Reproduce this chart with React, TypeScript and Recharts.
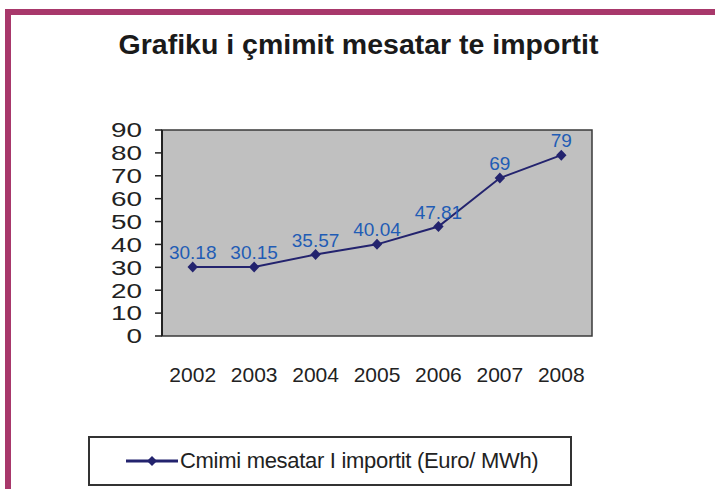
import React from 'react';
import { LineChart, Line, XAxis, YAxis, ReferenceArea, LabelList, Legend } from 'recharts';

const years = ['2002', '2003', '2004', '2005', '2006', '2007', '2008'];
const prices = [30.18, 30.15, 35.57, 40.04, 47.81, 69, 79];
const priceLabels = ['30.18', '30.15', '35.57', '40.04', '47.81', '69', '79'];
const yTicks = [0, 10, 20, 30, 40, 50, 60, 70, 80, 90];
const boundaryTicks = [0, 1, 2, 3, 4, 5, 6, 7];
const chartTitle = 'Grafiku i çmimit mesatar te importit';
const seriesName = 'Cmimi mesatar I importit (Euro/ MWh)';

const data = years.map((year, i) => ({ year, price: prices[i], label: priceLabels[i] }));

const LINE = '#23236e';
const LABEL = '#1f5cb5';
const INK = '#222222';
const FONT = '"Liberation Sans", Arial, Helvetica, sans-serif';

const Diamond = (props: any) => {
  const { cx, cy } = props;
  if (cx == null || cy == null) return null;
  return (
    <path
      d={`M${cx},${cy - 5.5} L${cx + 5.2},${cy} L${cx},${cy + 5.5} L${cx - 5.2},${cy} Z`}
      fill={LINE}
    />
  );
};

const YTick = (props: any) => {
  const { x, y, payload } = props;
  return (
    <text
      x={0}
      y={0}
      transform={`translate(${x},${y}) scale(1.36,1)`}
      textAnchor="end"
      dy="0.36em"
      fontSize={20.5}
      fill={INK}
      fontFamily={FONT}
    >
      {payload.value}
    </text>
  );
};

const LegendBox = (props: any) => {
  const item = props.payload && props.payload[0];
  return (
    <div
      style={{
        width: 484,
        height: 50,
        border: '2px solid #333',
        boxSizing: 'border-box',
        display: 'flex',
        alignItems: 'center',
        background: '#fff',
        fontFamily: FONT,
      }}
    >
      <svg width={52} height={12} style={{ marginLeft: 36, display: 'block' }}>
        <line x1={0} y1={6} x2={52} y2={6} stroke={LINE} strokeWidth={3} />
        <path d="M26,1 L31,6 L26,11 L21,6 Z" fill={LINE} />
      </svg>
      <span style={{ fontSize: 22, color: INK, marginLeft: 2, letterSpacing: -0.3, whiteSpace: 'nowrap' }}>
        {item ? item.value : seriesName}
      </span>
    </div>
  );
};

export default function App() {
  return (
    <div
      style={{
        position: 'absolute',
        left: 0,
        top: 0,
        width: 715,
        height: 489,
        overflow: 'hidden',
        background: '#fff',
        fontFamily: FONT,
      }}
    >
      <div
        style={{
          position: 'absolute',
          left: 5,
          top: 9,
          width: 740,
          height: 520,
          borderTop: '6px solid #a8386b',
          borderLeft: '6px solid #a8386b',
        }}
      />
      <div
        style={{
          position: 'absolute',
          left: 0,
          top: 30,
          width: 717,
          textAlign: 'center',
          fontSize: 28.5,
          lineHeight: '28px',
          fontWeight: 'bold',
          color: '#1a1a1a',
          whiteSpace: 'nowrap',
        }}
      >
        {chartTitle}
      </div>
      <div style={{ position: 'absolute', left: 0, top: 0 }}>
        <LineChart
          width={715}
          height={489}
          data={data}
          margin={{ top: 130, right: 123, left: 102, bottom: 113 }}
        >
          <XAxis
            xAxisId="edge"
            type="number"
            domain={[0, 7]}
            ticks={boundaryTicks}
            allowDataOverflow
            tick={false}
            tickSize={7}
            height={0}
            axisLine={{ stroke: INK, strokeWidth: 2 }}
            tickLine={{ stroke: INK, strokeWidth: 1.5 }}
          />
          <XAxis
            xAxisId="cat"
            dataKey="year"
            scale="band"
            interval={0}
            axisLine={false}
            tickLine={false}
            tickSize={0}
            tickMargin={31}
            height={40}
            tick={{ fill: INK, fontSize: 21, fontFamily: FONT }}
          />
          <YAxis
            domain={[0, 90]}
            ticks={yTicks}
            interval={0}
            allowDataOverflow
            width={60}
            tickSize={7}
            tickMargin={13}
            axisLine={{ stroke: INK, strokeWidth: 2 }}
            tickLine={{ stroke: INK, strokeWidth: 1.5 }}
            tick={<YTick />}
          />
          <ReferenceArea
            xAxisId="cat"
            y1={0}
            y2={90}
            fill="#c0c0c0"
            fillOpacity={1}
            stroke="#3a3a3a"
            strokeWidth={1.5}
          />
          <Legend
            layout="horizontal"
            verticalAlign="middle"
            align="center"
            wrapperStyle={{ left: 88, top: 436, width: 484, height: 50 }}
            content={<LegendBox />}
          />
          <Line
            xAxisId="cat"
            dataKey="price"
            name={seriesName}
            stroke={LINE}
            strokeWidth={2}
            dot={<Diamond />}
            activeDot={false}
            isAnimationActive={false}
          >
            <LabelList
              dataKey="label"
              position="top"
              offset={8}
              fill={LABEL}
              fontSize={19}
              fontFamily={FONT}
            />
          </Line>
        </LineChart>
      </div>
    </div>
  );
}
